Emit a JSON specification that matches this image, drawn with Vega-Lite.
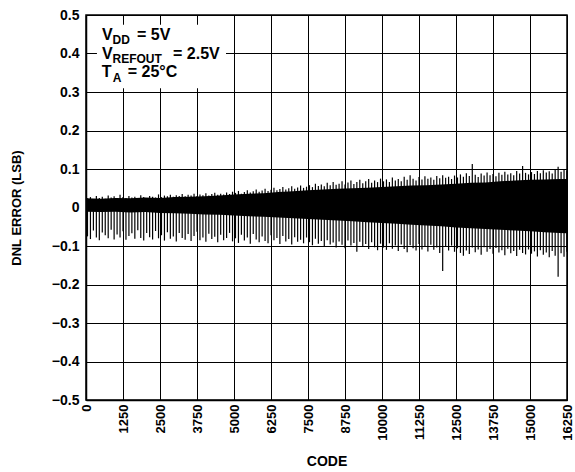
{
  "$schema": "https://vega.github.io/schema/vega-lite/v6.json",
  "width": 481,
  "height": 385,
  "autosize": "none",
  "padding": {"left": 86, "top": 15, "right": 8, "bottom": 72},
  "background": "white",
  "config": {
    "font": "Liberation Sans",
    "view": {"stroke": "black", "strokeWidth": 1.5},
    "axis": {
      "grid": true, "gridColor": "black", "gridOpacity": 1, "gridWidth": 1,
      "ticks": false, "domainColor": "black", "domainWidth": 1.5,
      "labelColor": "black", "labelFontWeight": "bold", "labelFont": "Liberation Sans",
      "titleColor": "black", "titleFontWeight": "bold", "titleFont": "Liberation Sans"
    }
  },
  "datasets": {
    "core": [
      {"c":0,"y":0.024,"y2":-0.011},{"c":500,"y":0.023,"y2":-0.012},{"c":1000,"y":0.025,"y2":-0.011},
      {"c":1500,"y":0.024,"y2":-0.013},{"c":2000,"y":0.026,"y2":-0.012},{"c":2500,"y":0.025,"y2":-0.014},
      {"c":3000,"y":0.027,"y2":-0.015},{"c":3500,"y":0.028,"y2":-0.016},{"c":4000,"y":0.029,"y2":-0.018},
      {"c":4500,"y":0.031,"y2":-0.019},{"c":5000,"y":0.034,"y2":-0.021},{"c":5500,"y":0.036,"y2":-0.023},
      {"c":6000,"y":0.037,"y2":-0.024},{"c":6500,"y":0.040,"y2":-0.026},{"c":7000,"y":0.042,"y2":-0.028},
      {"c":7500,"y":0.045,"y2":-0.030},{"c":8000,"y":0.047,"y2":-0.032},{"c":8500,"y":0.049,"y2":-0.034},
      {"c":9000,"y":0.050,"y2":-0.036},{"c":9500,"y":0.051,"y2":-0.038},{"c":10000,"y":0.053,"y2":-0.040},
      {"c":10500,"y":0.055,"y2":-0.042},{"c":11000,"y":0.057,"y2":-0.045},{"c":11500,"y":0.058,"y2":-0.047},
      {"c":12000,"y":0.060,"y2":-0.049},{"c":12500,"y":0.062,"y2":-0.052},{"c":13000,"y":0.064,"y2":-0.054},
      {"c":13500,"y":0.065,"y2":-0.056},{"c":14000,"y":0.068,"y2":-0.058},{"c":14500,"y":0.070,"y2":-0.060},
      {"c":15000,"y":0.072,"y2":-0.062},{"c":15500,"y":0.073,"y2":-0.064},{"c":16000,"y":0.074,"y2":-0.066},
      {"c":16250,"y":0.074,"y2":-0.067}
    ],
    "spikes": [
      {"c":5,"y":-0.24,"y2":0.015},
      {"c":50,"y":-0.075,"y2":0.024},{"c":150,"y":-0.082,"y2":0.027},{"c":250,"y":-0.060,"y2":0.022},
      {"c":350,"y":-0.078,"y2":0.030},{"c":450,"y":-0.085,"y2":0.025},{"c":550,"y":-0.065,"y2":0.028},
      {"c":650,"y":-0.072,"y2":0.023},{"c":750,"y":-0.080,"y2":0.031},{"c":850,"y":-0.058,"y2":0.026},
      {"c":950,"y":-0.083,"y2":0.029},{"c":1050,"y":-0.070,"y2":0.024},{"c":1150,"y":-0.078,"y2":0.033},
      {"c":1250,"y":-0.062,"y2":0.027},{"c":1350,"y":-0.084,"y2":0.025},{"c":1450,"y":-0.074,"y2":0.030},
      {"c":1550,"y":-0.067,"y2":0.026},{"c":1650,"y":-0.081,"y2":0.028},{"c":1750,"y":-0.059,"y2":0.024},
      {"c":1850,"y":-0.079,"y2":0.032},{"c":1950,"y":-0.086,"y2":0.027},{"c":2050,"y":-0.066,"y2":0.025},
      {"c":2150,"y":-0.077,"y2":0.030},{"c":2250,"y":-0.083,"y2":0.028},{"c":2350,"y":-0.061,"y2":0.026},
      {"c":2450,"y":-0.080,"y2":0.034},
      {"c":2550,"y":-0.072,"y2":0.027},{"c":2650,"y":-0.086,"y2":0.031},{"c":2750,"y":-0.064,"y2":0.029},
      {"c":2850,"y":-0.081,"y2":0.033},{"c":2950,"y":-0.075,"y2":0.028},{"c":3050,"y":-0.088,"y2":0.032},
      {"c":3150,"y":-0.066,"y2":0.030},{"c":3250,"y":-0.079,"y2":0.035},{"c":3350,"y":-0.084,"y2":0.029},
      {"c":3450,"y":-0.069,"y2":0.033},{"c":3550,"y":-0.087,"y2":0.031},{"c":3650,"y":-0.074,"y2":0.036},
      {"c":3750,"y":-0.063,"y2":0.030},{"c":3850,"y":-0.085,"y2":0.034},{"c":3950,"y":-0.078,"y2":0.032},
      {"c":4050,"y":-0.089,"y2":0.037},{"c":4150,"y":-0.068,"y2":0.031},{"c":4250,"y":-0.082,"y2":0.035},
      {"c":4350,"y":-0.076,"y2":0.038},{"c":4450,"y":-0.090,"y2":0.033},{"c":4550,"y":-0.071,"y2":0.036},
      {"c":4650,"y":-0.085,"y2":0.034},{"c":4750,"y":-0.079,"y2":0.039},{"c":4850,"y":-0.066,"y2":0.035},
      {"c":4950,"y":-0.088,"y2":0.041},
      {"c":5050,"y":-0.080,"y2":0.038},{"c":5150,"y":-0.092,"y2":0.043},{"c":5250,"y":-0.071,"y2":0.036},
      {"c":5350,"y":-0.086,"y2":0.040},{"c":5450,"y":-0.078,"y2":0.045},{"c":5550,"y":-0.094,"y2":0.039},
      {"c":5650,"y":-0.069,"y2":0.042},{"c":5750,"y":-0.083,"y2":0.047},{"c":5850,"y":-0.090,"y2":0.041},
      {"c":5950,"y":-0.075,"y2":0.044},{"c":6050,"y":-0.087,"y2":0.049},{"c":6150,"y":-0.093,"y2":0.043},
      {"c":6250,"y":-0.072,"y2":0.046},{"c":6350,"y":-0.085,"y2":0.051},{"c":6450,"y":-0.079,"y2":0.045},
      {"c":6550,"y":-0.095,"y2":0.048},{"c":6650,"y":-0.074,"y2":0.053},{"c":6750,"y":-0.088,"y2":0.047},
      {"c":6850,"y":-0.082,"y2":0.050},{"c":6950,"y":-0.096,"y2":0.055},{"c":7050,"y":-0.077,"y2":0.049},
      {"c":7150,"y":-0.089,"y2":0.052},{"c":7250,"y":-0.084,"y2":0.057},{"c":7350,"y":-0.093,"y2":0.051},
      {"c":7450,"y":-0.078,"y2":0.054},
      {"c":7550,"y":-0.090,"y2":0.058},{"c":7650,"y":-0.098,"y2":0.053},{"c":7750,"y":-0.081,"y2":0.062},
      {"c":7850,"y":-0.094,"y2":0.056},{"c":7950,"y":-0.087,"y2":0.060},{"c":8050,"y":-0.102,"y2":0.055},
      {"c":8150,"y":-0.085,"y2":0.064},{"c":8250,"y":-0.096,"y2":0.058},{"c":8350,"y":-0.091,"y2":0.066},
      {"c":8450,"y":-0.104,"y2":0.059},{"c":8550,"y":-0.088,"y2":0.062},{"c":8650,"y":-0.097,"y2":0.068},
      {"c":8750,"y":-0.106,"y2":0.060},{"c":8850,"y":-0.086,"y2":0.065},{"c":8950,"y":-0.099,"y2":0.070},
      {"c":9050,"y":-0.092,"y2":0.061},{"c":9150,"y":-0.115,"y2":0.066},{"c":9250,"y":-0.089,"y2":0.072},
      {"c":9350,"y":-0.101,"y2":0.063},{"c":9450,"y":-0.095,"y2":0.068},{"c":9550,"y":-0.108,"y2":0.074},
      {"c":9650,"y":-0.090,"y2":0.064},{"c":9750,"y":-0.103,"y2":0.070},{"c":9850,"y":-0.111,"y2":0.066},
      {"c":9950,"y":-0.094,"y2":0.075},
      {"c":10050,"y":-0.104,"y2":0.068},{"c":10150,"y":-0.110,"y2":0.073},{"c":10250,"y":-0.093,"y2":0.066},
      {"c":10350,"y":-0.107,"y2":0.078},{"c":10450,"y":-0.099,"y2":0.070},{"c":10550,"y":-0.113,"y2":0.074},
      {"c":10650,"y":-0.096,"y2":0.068},{"c":10750,"y":-0.108,"y2":0.080},{"c":10850,"y":-0.116,"y2":0.072},
      {"c":10950,"y":-0.098,"y2":0.084},{"c":11050,"y":-0.106,"y2":0.075},{"c":11150,"y":-0.112,"y2":0.070},
      {"c":11250,"y":-0.095,"y2":0.079},{"c":11350,"y":-0.109,"y2":0.073},{"c":11450,"y":-0.101,"y2":0.081},
      {"c":11550,"y":-0.114,"y2":0.075},{"c":11650,"y":-0.097,"y2":0.078},{"c":11750,"y":-0.110,"y2":0.072},
      {"c":11850,"y":-0.104,"y2":0.082},{"c":11950,"y":-0.118,"y2":0.076},{"c":12050,"y":-0.165,"y2":0.084},
      {"c":12150,"y":-0.102,"y2":0.077},{"c":12250,"y":-0.112,"y2":0.080},{"c":12350,"y":-0.099,"y2":0.074},
      {"c":12450,"y":-0.115,"y2":0.083},
      {"c":12550,"y":-0.106,"y2":0.078},{"c":12650,"y":-0.118,"y2":0.086},{"c":12750,"y":-0.125,"y2":0.080},
      {"c":12850,"y":-0.112,"y2":0.089},{"c":12950,"y":-0.121,"y2":0.082},{"c":13050,"y":-0.104,"y2":0.113},
      {"c":13150,"y":-0.116,"y2":0.085},{"c":13250,"y":-0.109,"y2":0.079},{"c":13350,"y":-0.123,"y2":0.088},
      {"c":13450,"y":-0.103,"y2":0.083},{"c":13550,"y":-0.115,"y2":0.091},{"c":13650,"y":-0.108,"y2":0.084},
      {"c":13750,"y":-0.120,"y2":0.087},{"c":13850,"y":-0.105,"y2":0.081},{"c":13950,"y":-0.117,"y2":0.090},
      {"c":14050,"y":-0.111,"y2":0.085},{"c":14150,"y":-0.124,"y2":0.093},{"c":14250,"y":-0.107,"y2":0.086},
      {"c":14350,"y":-0.119,"y2":0.089},{"c":14450,"y":-0.113,"y2":0.084},{"c":14550,"y":-0.126,"y2":0.095},
      {"c":14650,"y":-0.110,"y2":0.088},{"c":14750,"y":-0.118,"y2":0.108},{"c":14850,"y":-0.122,"y2":0.090},
      {"c":14950,"y":-0.109,"y2":0.086},
      {"c":15050,"y":-0.120,"y2":0.092},{"c":15150,"y":-0.114,"y2":0.087},{"c":15250,"y":-0.127,"y2":0.095},
      {"c":15350,"y":-0.111,"y2":0.089},{"c":15450,"y":-0.123,"y2":0.097},{"c":15550,"y":-0.117,"y2":0.091},
      {"c":15650,"y":-0.129,"y2":0.094},{"c":15750,"y":-0.113,"y2":0.088},{"c":15850,"y":-0.125,"y2":0.099},
      {"c":15950,"y":-0.180,"y2":0.106},{"c":16050,"y":-0.119,"y2":0.093},{"c":16150,"y":-0.128,"y2":0.100},
      {"c":16245,"y":-0.115,"y2":0.096}
    ],
    "box": [{"c":370,"c2":4730,"y":0.31,"y2":0.475}],
    "mainText": [
      {"t":"V","c":540,"y":0.4351},{"t":"= 5V","c":1723,"y":0.4351},
      {"t":"V","c":540,"y":0.3857},{"t":"= 2.5V","c":2939,"y":0.3857},
      {"t":"T","c":530,"y":0.3390},{"t":"= 25°C","c":1409,"y":0.3390}
    ],
    "subText": [
      {"t":"DD","c":895,"y":0.4247},
      {"t":"REFOUT","c":895,"y":0.3753},
      {"t":"A","c":902,"y":0.3260}
    ]
  },
  "encoding": {
    "x": {"field": "c", "type": "quantitative",
          "scale": {"domain": [0, 16250], "nice": false, "zero": false},
          "axis": {"title": "CODE", "values": [0,1250,2500,3750,5000,6250,7500,8750,10000,11250,12500,13750,15000,16250],
                   "format": "d", "labelAngle": -90, "labelAlign": "right", "labelBaseline": "middle",
                   "labelFontSize": 13, "labelPadding": 4, "titleFontSize": 14, "titlePadding": 14,
                   "labelFlush": false, "labelOverlap": false}},
    "y": {"field": "y", "type": "quantitative",
          "scale": {"domain": [-0.5, 0.5], "nice": false, "zero": false},
          "axis": {"title": "DNL ERROR (LSB)", "values": [-0.5,-0.4,-0.3,-0.2,-0.1,0,0.1,0.2,0.3,0.4,0.5],
                   "labelExpr": "datum.value == 0 ? '0' : format(datum.value, '.1f')",
                   "labelFontSize": 14, "labelPadding": 7, "titleFontSize": 13, "titlePadding": 28,
                   "labelFlush": false, "labelOverlap": false}}
  },
  "layer": [
    {
      "data": {"name": "core"},
      "mark": {"type": "area", "color": "black", "clip": true},
      "encoding": {"y2": {"field": "y2"}}
    },
    {
      "data": {"name": "spikes"},
      "mark": {"type": "rule", "color": "black", "strokeWidth": 1.2, "clip": true},
      "encoding": {"y2": {"field": "y2"}}
    },
    {
      "data": {"name": "box"},
      "mark": {"type": "rect", "color": "white", "opacity": 1},
      "encoding": {"x2": {"field": "c2"}, "y2": {"field": "y2"}}
    },
    {
      "data": {"name": "mainText"},
      "mark": {"type": "text", "align": "left", "baseline": "alphabetic", "font": "Liberation Sans", "fontWeight": "bold", "fontSize": 16, "color": "black"},
      "encoding": {"text": {"field": "t"}}
    },
    {
      "data": {"name": "subText"},
      "mark": {"type": "text", "align": "left", "baseline": "alphabetic", "font": "Liberation Sans", "fontWeight": "bold", "fontSize": 12, "color": "black"},
      "encoding": {"text": {"field": "t"}}
    }
  ]
}
